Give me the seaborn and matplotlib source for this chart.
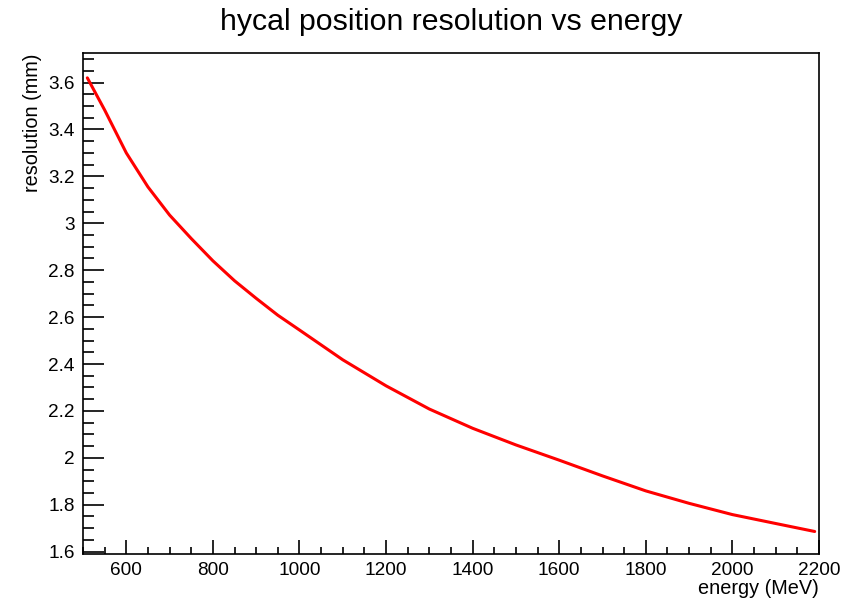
import matplotlib
matplotlib.use("Agg")
import matplotlib.pyplot as plt
from matplotlib.ticker import MultipleLocator
import seaborn as sns
import pandas as pd

energy = [510, 550, 600, 650, 700, 750, 800, 850, 900, 950, 1000, 1100, 1200,
          1300, 1400, 1500, 1600, 1700, 1800, 1900, 2000, 2100, 2190]
resolution = [3.62, 3.483, 3.30, 3.155, 3.035, 2.935, 2.84, 2.755, 2.68, 2.608,
              2.545, 2.418, 2.307, 2.208, 2.126, 2.055, 1.99, 1.923, 1.859,
              1.806, 1.758, 1.720, 1.686]

title = "hycal position resolution vs energy"
xlabel = "energy (MeV)"
ylabel = "resolution (mm)"

sns.set_style("ticks")
plt.rcParams['font.family'] = ['Liberation Sans', 'DejaVu Sans']
plt.rcParams['text.color'] = 'black'

df = pd.DataFrame({"energy": energy, "resolution": resolution})

fig = plt.figure(figsize=(8.61, 6.03), dpi=100)
ax = fig.add_axes([83 / 861, 1 - 554 / 603, (819 - 83) / 861, (554 - 53) / 603])
sns.lineplot(data=df, x="energy", y="resolution", ax=ax, color="#ff0000",
             linewidth=2.2)

ax.set_xlim(500, 2200)
ax.set_ylim(1.59, 3.726)
ax.xaxis.set_major_locator(MultipleLocator(200))
ax.xaxis.set_minor_locator(MultipleLocator(50))
ax.yaxis.set_major_locator(MultipleLocator(0.2))
ax.yaxis.set_minor_locator(MultipleLocator(0.05))

def fmt(v, pos):
    s = f"{v:.1f}"
    if s.endswith(".0"):
        s = s[:-2]
    return s
ax.yaxis.set_major_formatter(plt.FuncFormatter(fmt))

for sp in ax.spines.values():
    sp.set_visible(True)
    sp.set_linewidth(1.2)
    sp.set_color("black")

ax.tick_params(axis="both", which="both", direction="in", colors="black",
               labelcolor="black", labelsize=13.7, width=1.2)
ax.tick_params(axis="y", which="major", length=15, pad=6)
ax.tick_params(axis="y", which="minor", length=8)
ax.tick_params(axis="x", which="major", length=10, pad=6)
ax.tick_params(axis="x", which="minor", length=5)

ax.set_xlabel("")
ax.set_ylabel("")
fig.text(819 / 861, 1 - 588 / 603, xlabel, ha="right", va="center",
         fontsize=14.3, color="black")
fig.text(33 / 861, 1 - 53 / 603, ylabel, ha="center", va="top", rotation=90,
         fontsize=14.3, color="black")
fig.text(451 / 861, 1 - 22 / 603, title, ha="center", va="center",
         fontsize=21.8, color="black")

fig.savefig("out.png", dpi=100, facecolor="white")
